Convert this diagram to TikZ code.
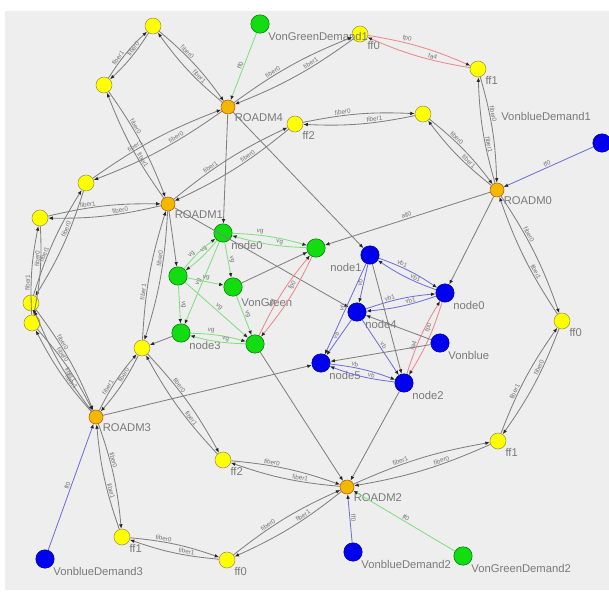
\documentclass[tikz,border=0pt]{standalone}
\usepackage{fontspec}
\setmainfont{Liberation Sans}
\usetikzlibrary{arrows.meta}
\definecolor{panel}{HTML}{EEEEEE}
\definecolor{ylw}{HTML}{FFFF00}
\definecolor{roadm}{HTML}{F5B800}
\definecolor{grn}{HTML}{11DD11}
\definecolor{blu}{HTML}{0000EE}
\definecolor{lbl}{HTML}{7A7A7A}
\definecolor{redlink}{HTML}{E88A8A}
\definecolor{grnlink}{HTML}{7EE07E}
\definecolor{blulink}{HTML}{7070D8}

\tikzset{
  yel/.style={circle,draw=yellow!55!black,fill=ylw,minimum size=0.4cm,inner sep=0pt,line width=0.4pt},
  rdm/.style={circle,draw=orange!70!black,fill=roadm,minimum size=0.35cm,inner sep=0pt,line width=0.4pt},
  gnode/.style={circle,draw=green!45!black,fill=grn,minimum size=0.46cm,inner sep=0pt,line width=0.4pt},
  bnode/.style={circle,draw=blue!55!black,fill=blu,minimum size=0.46cm,inner sep=0pt,line width=0.4pt},
  nlbl/.style={text=lbl,font=\fontsize{8}{9}\selectfont,inner sep=1pt},
  lnk/.style={draw=black!50,line width=0.6pt,-{Latex[length=3.2pt,width=2.6pt,color=black!85]}},
  rlnk/.style={lnk,draw=redlink},
  glnk/.style={lnk,draw=grnlink},
  blnk/.style={lnk,draw=blulink},
  elbl/.style={sloped,above,font=\fontsize{4.5}{5}\selectfont,text=black!55,inner sep=0.6pt}
}

% two links, one each way
\newcommand{\duplex}[5][]{%
  \draw[lnk,#1] (#2) to[bend left=7] node[elbl,pos=0.35]{#4} (#3);
  \draw[lnk,#1] (#3) to[bend left=7] node[elbl,pos=0.35]{#5} (#2);}
% one link
\newcommand{\simplex}[4][]{\draw[lnk,#1] (#2) to node[elbl]{#4} (#3);}

\begin{document}
\begin{tikzpicture}[x=0.025cm,y=-0.025cm]
\useasboundingbox (0,0) rectangle (609,592);
\fill[white] (0,0) rectangle (609,592);
\fill[panel] (5,11) rectangle (609,590);

% ROADM nodes
\node[rdm,label={[nlbl]below right:ROADM4}] (roadm4) at (228,107) {};
\node[rdm,label={[nlbl]below right:ROADM0}] (roadm0) at (497,190) {};
\node[rdm,label={[nlbl]below right:ROADM1}] (roadm1) at (168,204) {};
\node[rdm,label={[nlbl]below right:ROADM3}] (roadm3) at (96,417) {};
\node[rdm,label={[nlbl]below right:ROADM2}] (roadm2) at (347,487) {};

% fibre nodes
\node[yel] (ffa) at (153,26) {};
\node[yel,label={[nlbl]below right:ff0}] (ffb) at (360,34) {};
\node[yel,label={[nlbl]below right:ff1}] (ffc) at (478,69) {};
\node[yel,label={[nlbl]below right:ff2}] (ffd) at (295,124) {};
\node[yel] (ffe) at (423,114) {};
\node[yel] (ffp) at (104,85) {};
\node[yel] (fff) at (86,183) {};
\node[yel] (ffg) at (40,218) {};
\node[yel] (ffh) at (31,303) {};
\node[yel] (ffi) at (32,323) {};
\node[yel] (ffj) at (142,348) {};
\node[yel,label={[nlbl]below right:ff0}] (ffk) at (562,321) {};
\node[yel,label={[nlbl]below right:ff2}] (ffl) at (223,460) {};
\node[yel,label={[nlbl]below right:ff1}] (ffm) at (498,441) {};
\node[yel,label={[nlbl]below right:ff1}] (ffn) at (122,537) {};
\node[yel,label={[nlbl]below right:ff0}] (ffo) at (227,560) {};

% demands
\node[gnode,label={[nlbl]below right:VonGreenDemand1}] (greendem1) at (260,24) {};
\node[gnode,label={[nlbl]below right:VonGreenDemand2}] (greendem2) at (463,556) {};
\node[bnode,label={[nlbl,xshift=-2pt,yshift=10pt]above left:VonblueDemand1}] (bluedem1) at (602,143) {};
\node[bnode,label={[nlbl]below right:VonblueDemand2}] (bluedem2) at (353,552) {};
\node[bnode,label={[nlbl]below right:VonblueDemand3}] (bluedem3) at (45,559) {};

% VonGreen
\node[gnode,label={[nlbl]below right:node0}] (gn0) at (223,233) {};
\node[gnode] (gn1) at (316,248) {};
\node[gnode] (gn2) at (178,276) {};
\node[gnode,label={[nlbl,yshift=-2pt]below right:VonGreen}] (gn3) at (233,287) {};
\node[gnode,label={[nlbl]below right:node3}] (gn4) at (181,333) {};
\node[gnode] (gn5) at (255,344) {};

% Vonblue
\node[bnode,label={[nlbl]below left:node1}] (bn0) at (370,255) {};
\node[bnode,label={[nlbl]below right:node0}] (bn1) at (445,293) {};
\node[bnode,label={[nlbl]below right:node4}] (bn2) at (357,312) {};
\node[bnode,label={[nlbl]below right:Vonblue}] (bn3) at (440,343) {};
\node[bnode,label={[nlbl]below right:node5}] (bn4) at (321,363) {};
\node[bnode,label={[nlbl]below right:node2}] (bn5) at (404,383) {};

% fibre links
\duplex{ffa}{roadm4}{fiber0}{fiber1}
\duplex{ffa}{ffp}{fiber0}{fiber1}
\duplex{ffp}{roadm1}{fiber0}{fiber1}
\duplex{roadm4}{fff}{fiber0}{fiber1}
\duplex{roadm4}{ffb}{fiber0}{fiber1}
\duplex{ffd}{roadm1}{fiber0}{fiber1}
\duplex{ffd}{ffe}{fiber0}{fiber1}
\duplex{ffe}{roadm0}{fiber0}{fiber1}
\duplex[rlnk]{ffb}{ffc}{fp0}{fa4}
\duplex{ffc}{roadm0}{fiber0}{fiber1}
\duplex{roadm0}{ffk}{fiber0}{fiber1}
\duplex{ffk}{ffm}{fiber0}{fiber1}
\duplex{ffm}{roadm2}{fiber0}{fiber1}
\duplex{roadm1}{ffg}{fiber0}{fiber1}
\duplex{fff}{ffh}{fiber0}{fiber1}
\duplex{ffg}{ffi}{fiber0}{fiber1}
\duplex{ffh}{roadm3}{fiber0}{fiber1}
\duplex{ffi}{roadm3}{fiber0}{fiber1}
\duplex{roadm1}{ffj}{fiber0}{fiber1}
\duplex{ffj}{roadm3}{fiber0}{fiber1}
\duplex{ffj}{ffl}{fiber0}{fiber1}
\duplex{roadm3}{ffn}{fiber0}{fiber1}
\duplex{ffn}{ffo}{fiber0}{fiber1}
\duplex{ffo}{roadm2}{fiber0}{fiber1}
\duplex{ffl}{roadm2}{fiber0}{fiber1}

% demand links
\simplex[glnk]{greendem1}{roadm4}{ff0}
\simplex[glnk]{greendem2}{roadm2}{ff0}
\simplex[blnk]{bluedem1}{roadm0}{ff0}
\simplex[blnk]{bluedem2}{roadm2}{ff0}
\simplex[blnk]{bluedem3}{roadm3}{ff0}

% mapping links
\simplex{roadm4}{gn0}{}
\simplex{roadm4}{bn0}{}
\simplex{roadm0}{gn1}{all0}
\simplex{roadm0}{bn1}{}
\simplex{roadm1}{gn2}{}
\simplex{roadm1}{bn2}{}
\simplex{gn4}{ffj}{}
\simplex{roadm3}{bn4}{}
\simplex{bn5}{roadm2}{}
\simplex{gn5}{roadm2}{}
\simplex{gn3}{gn1}{}

% VonGreen links
\duplex[glnk]{gn0}{gn1}{vg}{vg}
\duplex[glnk]{gn0}{gn2}{vg}{vg}
\simplex[glnk]{gn0}{gn4}{vg}
\simplex[glnk]{gn0}{gn3}{vg}
\simplex[glnk]{gn2}{gn3}{vg}
\simplex[glnk]{gn2}{gn5}{vg}
\simplex[glnk]{gn2}{gn4}{vg}
\duplex[glnk]{gn4}{gn5}{vg}{vg}
\simplex[glnk]{gn3}{gn5}{vg}
\duplex[rlnk]{gn5}{gn1}{fa4}{fp0}

% Vonblue links
\duplex[blnk]{bn0}{bn1}{vb1}{vb1}
\simplex[blnk]{bn0}{bn2}{vb}
\simplex[blnk]{bn0}{bn4}{vb}
\duplex[blnk]{bn2}{bn1}{vb1}{vb1}
\simplex[blnk]{bn2}{bn4}{vb}
\simplex[blnk]{bn2}{bn5}{vb}
\duplex[blnk]{bn4}{bn5}{vb}{vb}
\duplex[rlnk]{bn1}{bn5}{fp0}{fa4}
\simplex{bn3}{bn4}{}
\simplex{bn3}{bn2}{}
\simplex{bn0}{bn5}{}
\end{tikzpicture}
\end{document}
